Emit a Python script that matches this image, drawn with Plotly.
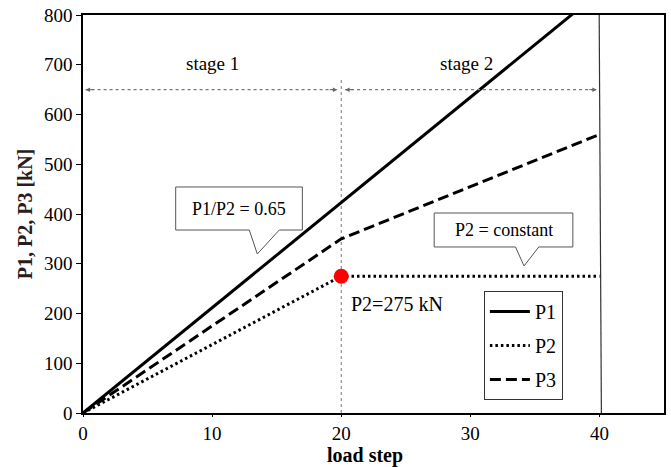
import plotly.graph_objects as go

load_step = [0, 20, 40]
P1 = [0, 423, 846]
P2 = [0, 275, 275]
P3 = [0, 350, 560]

x_ticks = [0, 10, 20, 30, 40]
y_ticks = [0, 100, 200, 300, 400, 500, 600, 700, 800]

FONT = "Liberation Serif"

fig = go.Figure()
fig.add_trace(go.Scatter(x=load_step, y=P1, mode="lines", name="P1", legendgroup="a",
                         line=dict(color="black", width=3)))
fig.add_trace(go.Scatter(x=load_step, y=P2, mode="lines", name="P2", legendgroup="b",
                         line=dict(color="black", width=3, dash="2.5px,3px")))
fig.add_trace(go.Scatter(x=load_step, y=P3, mode="lines", name="P3", legendgroup="c",
                         line=dict(color="black", width=3, dash="11px,5px")))
fig.add_trace(go.Scatter(x=[load_step[1]], y=[P2[1]], mode="markers", showlegend=False,
                         marker=dict(color="#ff0000", size=15)))

shapes = []
shapes.append(dict(type="line", xref="x", yref="y", x0=20, x1=20, y0=0, y1=672,
                   line=dict(color="#777", width=1, dash="dot"), layer="below"))
shapes.append(dict(type="line", xref="x", yref="y", x0=0.2, x1=19.7, y0=650, y1=650,
                   line=dict(color="#777", width=1.3, dash="dot")))
shapes.append(dict(type="line", xref="x", yref="y", x0=20.3, x1=39.8, y0=650, y1=650,
                   line=dict(color="#777", width=1.3, dash="dot")))
shapes.append(dict(type="line", xref="x", yref="y", x0=40.15, x1=39.98, y0=0, y1=800,
                   line=dict(color="#333", width=1.2)))
bx0, bx1, by0, by1 = 7.18, 16.99, 367.8, 454.3
shapes.append(dict(type="path", xref="x", yref="y",
                   path=f"M {bx0},{by1} L {bx1},{by1} L {bx1},{by0} L 15.2,{by0} L 13.5,319.6 L 12.88,{by0} L {bx0},{by0} Z",
                   fillcolor="white", line=dict(color="#555", width=1)))
cx0, cx1, cy0, cy1 = 27.2, 37.94, 333.7, 402.0
shapes.append(dict(type="path", xref="x", yref="y",
                   path=f"M {cx0},{cy1} L {cx1},{cy1} L {cx1},{cy0} L 35.3,{cy0} L 34.16,295.5 L 33.5,{cy0} L {cx0},{cy0} Z",
                   fillcolor="white", line=dict(color="#555", width=1)))

annotations = [
    dict(x=10, y=703, text="stage 1", showarrow=False, font=dict(family=FONT, size=19)),
    dict(x=29.7, y=703, text="stage 2", showarrow=False, font=dict(family=FONT, size=19)),
    dict(x=12.08, y=411, text="P1/P2 = 0.65", showarrow=False, font=dict(family=FONT, size=18)),
    dict(x=32.6, y=368, text="P2 = constant", showarrow=False, font=dict(family=FONT, size=18)),
    dict(x=20.6, y=219, text="P2=275 kN", showarrow=False, xanchor="left", font=dict(family=FONT, size=20)),
    dict(x=0.485, y=-0.107, xref="paper", yref="paper", text="<b>load step</b>", showarrow=False,
         xanchor="center", yanchor="middle", font=dict(family=FONT, size=20)),
]
for tip, tail in [(0.2, 0.9), (19.7, 19.0), (20.3, 21.0), (39.8, 39.1)]:
    annotations.append(dict(x=tip, y=650, ax=tail, ay=650, axref="x", ayref="y", xref="x", yref="y",
                            text="", showarrow=True, arrowhead=2, arrowsize=0.9, arrowwidth=1,
                            arrowcolor="#666"))

fig.update_layout(
    width=671, height=467,
    margin=dict(l=83, r=7, t=15, b=54),
    paper_bgcolor="white", plot_bgcolor="white",
    font=dict(family=FONT, size=19, color="black"),
    shapes=shapes, annotations=annotations,
    legend=dict(x=0.69, y=0.3065, xanchor="left", yanchor="top",
                bordercolor="#333", borderwidth=1, bgcolor="white",
                font=dict(family=FONT, size=20), tracegroupgap=5, itemwidth=40),
    xaxis=dict(range=[0, 45], tickvals=x_ticks, ticktext=[str(v) for v in x_ticks],
               showgrid=False, zeroline=False, showline=True, linecolor="black", linewidth=1.5,
               mirror=True, ticks="outside", ticklen=2, tickcolor="black", automargin=False,
               tickfont=dict(family=FONT, size=19)),
    yaxis=dict(range=[0, 800], tickvals=y_ticks, ticktext=[str(v) for v in y_ticks],
               showgrid=False, zeroline=False, showline=True, linecolor="black", linewidth=1.5,
               mirror=True, ticks="outside", ticklen=5, tickcolor="black", automargin=False,
               tickfont=dict(family=FONT, size=19),
               title=dict(text="<b>P1, P2, P3 [kN]</b>", font=dict(family=FONT, size=20, color="#2a1c1c"), standoff=6)),
)

fig.write_html("out.html")
